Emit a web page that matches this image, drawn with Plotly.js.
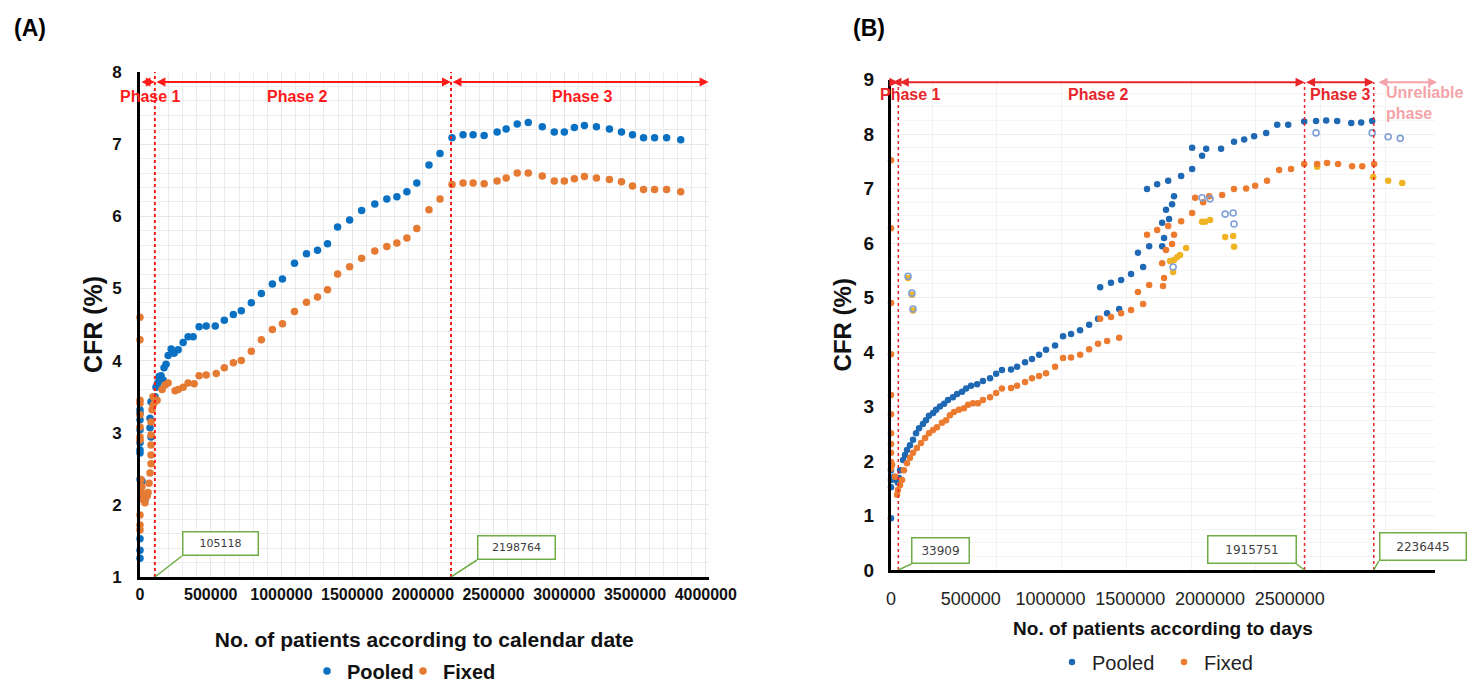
<!DOCTYPE html>
<html><head><meta charset="utf-8">
<script src="https://cdn.plot.ly/plotly-3.0.1.min.js"></script>
<style>html,body{margin:0;padding:0;background:#fff;overflow:hidden;} #chart{width:1469px;height:682px;}</style>
</head><body><div id="chart"></div>
<script>
// ---------- Panel A: CFR vs No. of patients according to calendar date ----------
const xA_pooled = [0,0,0,0,0,0,0,0,0,0,0,
  7000,14000,21000,35000,71000,78000,71000,78000,92000,106000,113000,121000,128000,135000,
  149000,163000,170000,184000,199000,220000,241000,270000,305000,340000,376000,
  418000,468000,532000,596000,660000,716000,787000,858000,936000,1007000,1092000,1177000,
  1255000,1326000,1397000,1482000,1567000,1660000,1745000,1816000,1887000,1957000,2043000,2121000,2206000,
  2284000,2355000,2433000,2525000,2589000,2667000,2745000,2844000,2929000,3000000,
  3071000,3142000,3227000,3319000,3404000,3482000,3560000,3638000,3723000,3823000];
const yA_pooled = [1.26,1.37,1.53,2.35,2.72,2.76,2.86,3.04,3.18,3.27,3.32,
  2.29,2.33,2.11,2.07,3.07,2.94,3.20,3.43,3.45,3.50,3.63,3.66,3.70,3.78,
  3.79,3.73,3.90,3.95,4.07,4.16,4.10,4.15,4.25,4.33,4.33,
  4.47,4.48,4.48,4.56,4.64,4.69,4.80,4.93,5.06,5.13,5.35,5.48,
  5.53,5.62,5.85,5.95,6.08,6.17,6.24,6.27,6.34,6.46,6.71,6.87,7.09,
  7.13,7.13,7.12,7.17,7.21,7.28,7.30,7.24,7.17,7.17,
  7.23,7.26,7.24,7.21,7.17,7.13,7.09,7.09,7.09,7.06];
const xA_fixed = [0,0,0,0,0,0,0,0,0,0,0,
  7000,14000,14000,21000,35000,50000,57000,64000,71000,78000,78000,78000,78000,78000,85000,92000,106000,121000,92000,156000,177000,199000,
  248000,270000,305000,340000,383000,418000,468000,539000,596000,660000,716000,787000,858000,936000,1007000,
  1092000,1177000,1255000,1326000,1397000,1482000,1567000,1660000,1745000,1816000,1887000,1957000,2043000,2121000,2206000,
  2284000,2355000,2433000,2525000,2589000,2667000,2745000,2844000,2929000,3000000,
  3071000,3142000,3227000,3319000,3404000,3482000,3560000,3638000,3723000,3823000];
const yA_fixed = [4.60,4.29,3.45,3.41,3.25,3.08,2.94,2.90,1.86,1.72,1.65,
  2.35,2.25,2.16,2.07,2.03,2.12,2.17,2.30,2.44,2.57,2.69,2.83,2.97,3.15,3.32,3.38,3.43,3.45,3.50,3.60,3.66,3.69,
  3.58,3.60,3.63,3.69,3.68,3.79,3.80,3.82,3.90,3.97,4.00,4.13,4.29,4.43,4.51,
  4.68,4.81,4.88,4.98,5.20,5.30,5.42,5.52,5.58,5.63,5.70,5.83,6.09,6.24,6.44,
  6.46,6.46,6.45,6.49,6.53,6.60,6.60,6.56,6.49,6.49,
  6.52,6.55,6.53,6.51,6.48,6.42,6.37,6.37,6.37,6.34];
const phaseA = [105118, 2198764];
const phaseLabelsA = ['Phase 1','Phase 2','Phase 3'];
const ticksA_x = [0,500000,1000000,1500000,2000000,2500000,3000000,3500000,4000000];

// ---------- Panel B: CFR vs No. of patients according to days ----------
const xB_pooled = [0,0,0,0,
  14000,23000,32000,37000,42000,56000,65000,74000,88000,102000,116000,130000,148000,162000,176000,
  195000,209000,227000,246000,264000,287000,306000,329000,348000,371000,399000,426000,459000,487000,514000,
  556000,584000,621000,653000,686000,718000,760000,797000,834000,876000,918000,959000,1001000,1057000,
  969000,1019000,1066000,1112000,1168000,1144000,1196000,1256000,1265000,1256000,1288000,1274000,1302000,1311000,
  1186000,1233000,1284000,1344000,1395000,
  1395000,1441000,1460000,1529000,1589000,1636000,1682000,1738000,1789000,1840000,
  1914000,1969000,2016000,2067000,2132000,2178000,2229000];
const yB_pooled = [0.95,1.52,1.65,1.83,
  1.71,1.65,1.60,1.69,1.83,2.02,2.11,2.20,2.29,2.39,2.51,2.60,2.68,2.75,2.83,
  2.88,2.94,3.00,3.05,3.12,3.17,3.23,3.27,3.33,3.38,3.41,3.47,3.52,3.60,3.67,
  3.68,3.73,3.81,3.87,3.95,4.04,4.12,4.29,4.33,4.40,4.50,4.61,4.71,4.79,
  5.19,5.27,5.32,5.43,5.56,5.82,5.94,5.94,6.09,6.37,6.44,6.61,6.71,6.86,
  6.99,7.08,7.14,7.23,7.36,
  7.75,7.60,7.73,7.73,7.86,7.90,7.96,8.02,8.17,8.17,
  8.23,8.24,8.25,8.24,8.20,8.21,8.24];
const xB_fixed = [0,0,0,0,0,0,0,0,0,0,0,
  5000,19000,28000,32000,42000,51000,60000,74000,88000,102000,120000,139000,158000,176000,195000,
  213000,236000,255000,273000,292000,315000,338000,357000,380000,403000,426000,459000,487000,514000,556000,
  584000,621000,653000,686000,718000,760000,797000,834000,876000,918000,959000,1001000,1057000,
  969000,1019000,1066000,1112000,1168000,1144000,1196000,1260000,1265000,1256000,1274000,1302000,1186000,1311000,1233000,
  1284000,1344000,1395000,1446000,1409000,1474000,1534000,1589000,1645000,1687000,
  1742000,1798000,1853000,1914000,1974000,2020000,2071000,2136000,2183000,2238000];
const yB_fixed = [7.52,6.27,4.90,3.96,3.21,2.86,2.51,2.31,2.15,1.98,1.86,
  1.93,1.71,1.38,1.47,1.56,1.65,1.83,1.96,2.06,2.15,2.24,2.33,2.42,2.51,2.57,
  2.62,2.70,2.75,2.84,2.90,2.94,2.97,3.03,3.06,3.06,3.12,3.17,3.25,3.33,3.34,
  3.38,3.45,3.52,3.56,3.61,3.73,3.89,3.90,3.95,4.05,4.15,4.20,4.26,
  4.61,4.64,4.71,4.77,4.88,5.10,5.23,5.21,5.36,5.63,5.87,5.98,6.15,6.15,6.24,
  6.31,6.40,6.55,6.75,6.83,6.86,6.88,6.99,7.00,7.05,
  7.14,7.34,7.36,7.45,7.45,7.47,7.45,7.41,7.41,7.45];
const xB_pooledUnrel = [79000,97000,102000,1307000,1441000,1478000,1548000,1585000,1589000,1969000,2229000,2303000,2359000];
const yB_pooledUnrel = [5.39,5.08,4.79,5.56,6.83,6.81,6.53,6.55,6.35,8.02,8.02,7.95,7.92];
const xB_fixedUnrel = [79000,97000,102000,1293000,1311000,1325000,1339000,1367000,1307000,1441000,1455000,1478000,1548000,1585000,1589000,1974000,2234000,2303000,2368000];
const yB_fixedUnrel = [5.36,5.05,4.76,5.67,5.69,5.74,5.78,5.91,5.47,6.39,6.39,6.42,6.11,6.13,5.93,7.40,7.21,7.14,7.10];
const phaseB = [33909, 1915751, 2236445];
const phaseLabelsB = ['Phase 1','Phase 2','Phase 3'];
const unreliableLabel = 'Unreliable<br>phase';
const ticksB_x = [0,500000,1000000,1500000,2000000,2500000];

// ---------- styling ----------
const F = 'Liberation Sans, Arial, sans-serif';
const FN = 'Liberation Sans Narrow, Liberation Sans, Arial, sans-serif';
const W = 1469, H = 682;
const px = v => v / W, py = v => 1 - v / H;
const BLUE_A = '#0a70c2', ORANGE_A = '#e57a33';
const BLUE_B = '#1f68b4', ORANGE_B = '#ec7b30';
const RED = '#ff1a1a', RED_B = '#e8262a', PINK = '#f4a3a8', GREEN = '#70ad47';

const xRangeA = [0, 4020000], yRangeA = [1, 8];
const xRangeB = [0, 2520000], yRangeB = [0, 9];

const traces = [
  {x: xA_pooled, y: yA_pooled, type: 'scatter', mode: 'markers', name: 'Pooled', xaxis: 'x', yaxis: 'y', legend: 'legend',
   marker: {color: BLUE_A, size: 7.5}, cliponaxis: false},
  {x: xA_fixed, y: yA_fixed, type: 'scatter', mode: 'markers', name: 'Fixed', xaxis: 'x', yaxis: 'y', legend: 'legend',
   marker: {color: ORANGE_A, size: 7.5}, cliponaxis: false},
  {x: xB_fixedUnrel, y: yB_fixedUnrel, type: 'scatter', mode: 'markers', name: 'Fixed (unreliable)', xaxis: 'x2', yaxis: 'y2', showlegend: false,
   marker: {color: '#f0b323', size: 6.5}, cliponaxis: false},
  {x: xB_pooled, y: yB_pooled, type: 'scatter', mode: 'markers', name: 'Pooled', xaxis: 'x2', yaxis: 'y2', legend: 'legend2',
   marker: {color: BLUE_B, size: 6.5}, cliponaxis: false},
  {x: xB_fixed, y: yB_fixed, type: 'scatter', mode: 'markers', name: 'Fixed', xaxis: 'x2', yaxis: 'y2', legend: 'legend2',
   marker: {color: ORANGE_B, size: 6.5}, cliponaxis: false},
  {x: xB_pooledUnrel, y: yB_pooledUnrel, type: 'scatter', mode: 'markers', name: 'Pooled (unreliable)', xaxis: 'x2', yaxis: 'y2', showlegend: false,
   marker: {color: 'rgba(0,0,0,0)', size: 6, line: {color: '#7f9fd4', width: 1.6}}, cliponaxis: false},
  // carrier for the tick-label axis of panel B
  {x: [null], y: [null], type: 'scatter', mode: 'markers', xaxis: 'x3', yaxis: 'y2', showlegend: false, hoverinfo: 'skip'}
];

const shapes = [];
const annotations = [];

// Panel A phase lines, arrows, labels, callouts
phaseA.forEach(v => shapes.push({type: 'line', xref: 'x', yref: 'y', x0: v, x1: v, y0: yRangeA[0], y1: yRangeA[1],
  line: {color: RED, width: 2, dash: 'dot'}}));
const boundsA = [0, ...phaseA, xRangeA[1]];
const arrowYA = 7.86;
for (let i = 0; i < boundsA.length - 1; i++) {
  annotations.push({xref: 'x', yref: 'y', axref: 'x', ayref: 'y', x: boundsA[i + 1], y: arrowYA, ax: boundsA[i], ay: arrowYA,
    text: '', showarrow: true, arrowhead: 2, arrowside: 'end+start', arrowsize: 0.9, arrowwidth: 2, arrowcolor: RED, standoff: 0, startstandoff: 0});
}
const labelXA = [76000, 1117000, 3127000];
phaseLabelsA.forEach((t, i) => annotations.push({xref: 'x', yref: 'y', x: labelXA[i], y: 7.665, text: t, showarrow: false,
  font: {family: FN, size: 16, color: RED, weight: 'bold'}}));
const calloutA = [{xs: 27, ys: 21, w: 72}, {xs: 26, ys: 17, w: 74}];
phaseA.forEach((v, i) => {
  const c = calloutA[i];
  shapes.push({type: 'line', xref: 'x', yref: 'y', xsizemode: 'pixel', ysizemode: 'pixel', xanchor: v, yanchor: yRangeA[0],
    x0: 0, y0: 0, x1: c.xs, y1: c.ys, line: {color: GREEN, width: 1.5}});
  annotations.push({xref: 'x', yref: 'y', x: v, y: yRangeA[0], xanchor: 'left', yanchor: 'bottom', xshift: c.xs, yshift: c.ys,
    text: String(v), showarrow: false, width: c.w, height: 20, borderpad: 1, bordercolor: GREEN, borderwidth: 1.5, bgcolor: '#fff',
    font: {family: 'DejaVu Sans, sans-serif', size: 11, color: '#404040'}});
});

// Panel B phase lines, arrows, labels, callouts
phaseB.forEach(v => shapes.push({type: 'line', xref: 'x2', yref: 'y2', x0: v, x1: v, y0: yRangeB[0], y1: 8.95,
  line: {color: RED_B, width: 1.5, dash: 'dot'}}));
const boundsB = [0, ...phaseB];
const arrowYB = 8.95;
for (let i = 0; i < boundsB.length - 1; i++) {
  annotations.push({xref: 'x2', yref: 'y2', axref: 'x2', ayref: 'y2', x: boundsB[i + 1], y: arrowYB, ax: boundsB[i], ay: arrowYB,
    text: '', showarrow: true, arrowhead: 2, arrowside: 'end+start', arrowsize: 0.9, arrowwidth: 2, arrowcolor: RED_B, standoff: 0, startstandoff: 0});
}
annotations.push({xref: 'x2', yref: 'y2', axref: 'x2', ayref: 'y2', x: 2530000, y: arrowYB, ax: phaseB[2] + 15000, ay: arrowYB,
  text: '', showarrow: true, arrowhead: 2, arrowside: 'end+start', arrowsize: 0.9, arrowwidth: 2, arrowcolor: PINK, standoff: 0, startstandoff: 0});
const labelXB = [89000, 960000, 2080000];
phaseLabelsB.forEach((t, i) => annotations.push({xref: 'x2', yref: 'y2', x: labelXB[i], y: 8.73, text: t, showarrow: false,
  font: {family: FN, size: 16, color: RED_B, weight: 'bold'}}));
annotations.push({xref: 'x2', yref: 'y2', x: 2284000, y: 8.57, xanchor: 'left', align: 'left', text: unreliableLabel, showarrow: false,
  font: {family: FN, size: 16, color: PINK, weight: 'bold'}});
const calloutB = [{xs: 13, ys: 6, w: 54, h: 22, anchor: 'left'}, {xs: -8, ys: 6, w: 85, h: 24, anchor: 'right'}, {xs: 5, ys: 9, w: 83, h: 24, anchor: 'left'}];
phaseB.forEach((v, i) => {
  const c = calloutB[i];
  shapes.push({type: 'line', xref: 'x2', yref: 'y2', xsizemode: 'pixel', ysizemode: 'pixel', xanchor: v, yanchor: yRangeB[0],
    x0: 0, y0: 0, x1: c.xs, y1: c.ys, line: {color: GREEN, width: 1.5}});
  annotations.push({xref: 'x2', yref: 'y2', x: v, y: yRangeB[0], xanchor: c.anchor, yanchor: 'bottom', xshift: c.xs, yshift: c.ys,
    text: String(v), showarrow: false, width: c.w, height: c.h, borderpad: 1, bordercolor: GREEN, borderwidth: 1.5, bgcolor: '#fff',
    font: {family: 'DejaVu Sans, sans-serif', size: 12, color: '#404040'}});
});

// Panel letters
annotations.push({xref: 'paper', yref: 'paper', x: px(12), y: py(28), xanchor: 'left', yanchor: 'middle', text: '(A)', showarrow: false,
  font: {family: F, size: 23, color: '#000', weight: 'bold'}});
annotations.push({xref: 'paper', yref: 'paper', x: px(851), y: py(28), xanchor: 'left', yanchor: 'middle', text: '(B)', showarrow: false,
  font: {family: F, size: 23, color: '#000', weight: 'bold'}});

const layout = {
  width: W, height: H,
  margin: {l: 0, r: 0, t: 0, b: 0, autoexpand: false},
  paper_bgcolor: '#fff', plot_bgcolor: '#fff',
  showlegend: true,
  separators: '.,',
  xaxis: {domain: [px(140), px(708.6)], range: xRangeA, anchor: 'y', tickmode: 'array', tickvals: ticksA_x, tickformat: 'd',
    tickfont: {family: F, size: 16, color: '#111', weight: 'bold'}, ticks: '', ticklabelstandoff: 1,
    showgrid: true, gridcolor: '#e6e6e6', gridwidth: 1,
    minor: {dtick: 100000, showgrid: true, gridcolor: '#ececec', gridwidth: 1},
    showline: true, linecolor: '#000', linewidth: 3, zeroline: false,
    title: {text: 'No. of patients according to calendar date', standoff: 31, font: {family: F, size: 21, color: '#111', weight: 'bold'}}},
  yaxis: {domain: [py(577), py(72)], range: yRangeA, anchor: 'x', dtick: 1,
    tickfont: {family: F, size: 17, color: '#111', weight: 'bold'}, ticks: '', ticklabelstandoff: 12,
    showgrid: true, gridcolor: '#e6e6e6', minor: {dtick: 0.2, showgrid: true, gridcolor: '#ececec'},
    showline: true, linecolor: '#000', linewidth: 3, zeroline: false,
    title: {text: 'CFR (%)', standoff: 3, font: {family: F, size: 25, color: '#111', weight: 'bold'}}},
  xaxis2: {domain: [px(891), px(1435)], range: xRangeB, anchor: 'y2', showticklabels: false, ticks: '',
    dtick: 300000, tick0: 190000, showgrid: true, gridcolor: '#f2f2f2',
    showline: true, linecolor: '#000', linewidth: 2.5, zeroline: false},
  xaxis3: {overlaying: 'x2', anchor: 'y2', range: [0, 3410000], tickmode: 'array', tickvals: ticksB_x, tickformat: 'd',
    tickfont: {family: F, size: 18, color: '#222'}, ticks: '', showgrid: false, showline: false, zeroline: false, ticklabelstandoff: 16,
    title: {text: 'No. of patients according to days', standoff: 13, font: {family: F, size: 19, color: '#111', weight: 'bold'}}},
  yaxis2: {domain: [py(570), py(79.5)], range: yRangeB, anchor: 'x2', dtick: 1,
    tickfont: {family: F, size: 19, color: '#111', weight: 'bold'}, ticks: '', ticklabelstandoff: 10,
    showgrid: true, gridcolor: '#eeeeee', minor: {dtick: 0.25, showgrid: true, gridcolor: '#f5f5f5'},
    showline: true, linecolor: '#000', linewidth: 3, zeroline: false,
    title: {text: 'CFR (%)', standoff: 6, font: {family: F, size: 24, color: '#111', weight: 'bold'}}},
  legend: {orientation: 'h', x: px(307), y: py(671), xanchor: 'left', yanchor: 'middle', bgcolor: 'rgba(0,0,0,0)',
    font: {family: F, size: 20, color: '#111', weight: 'bold'}, itemwidth: 30, entrywidth: 51, entrywidthmode: 'pixels'},
  legend2: {orientation: 'h', x: px(1052), y: py(662), xanchor: 'left', yanchor: 'middle', bgcolor: 'rgba(0,0,0,0)',
    font: {family: F, size: 20, color: '#222'}, itemwidth: 30, entrywidth: 67, entrywidthmode: 'pixels'},
  shapes: shapes,
  annotations: annotations
};

Plotly.newPlot('chart', traces, layout, {displayModeBar: false, staticPlot: true});
</script></body></html>
